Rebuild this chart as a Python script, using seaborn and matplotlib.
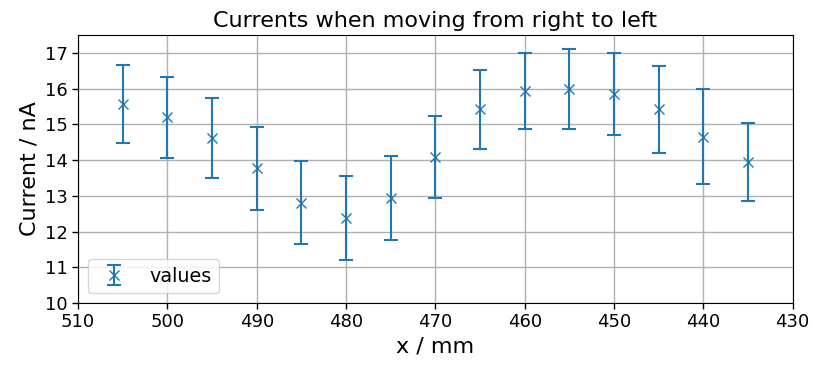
import numpy as np
import matplotlib
matplotlib.use("Agg")
import matplotlib.pyplot as plt
import seaborn as sns

x_mm = [505, 500, 495, 490, 485, 480, 475, 470, 465, 460, 455, 450, 445, 440, 435]
current = [15.57, 15.20, 14.62, 13.77, 12.81, 12.38, 12.93, 14.08, 15.42, 15.94, 16.00, 15.85, 15.42, 14.65, 13.94]
err = [1.10, 1.13, 1.12, 1.16, 1.16, 1.18, 1.17, 1.15, 1.10, 1.07, 1.12, 1.14, 1.21, 1.33, 1.09]

sns.set_style("ticks", rc={
    'text.color': 'black', 'axes.labelcolor': 'black',
    'xtick.color': 'black', 'ytick.color': 'black',
    'axes.edgecolor': 'black'})
plt.rcParams['font.family'] = ['DejaVu Sans']

fig, ax = plt.subplots(figsize=(8.13, 3.65), dpi=100)
ax.errorbar(x_mm, current, yerr=err, fmt='x', color='#1f77b4', capsize=5,
            markersize=7, elinewidth=1.5, capthick=1.5, label='values')
ax.set_xlim(510, 430)
ax.set_ylim(10, 17.5)
ax.set_xticks(np.arange(510, 429, -10))
ax.set_yticks(np.arange(10, 18, 1))
ax.grid(True, color='#b0b0b0', linewidth=1)
ax.set_axisbelow(True)
ax.tick_params(labelsize=13, direction='out', length=4, width=1)
ax.set_xlabel('x / mm', fontsize=16)
ax.set_ylabel('Current / nA', fontsize=16)
ax.set_title('Currents when moving from right to left', fontsize=16)
ax.legend(loc='lower left', fontsize=13.8)
fig.subplots_adjust(left=0.096, right=0.975, top=0.904, bottom=0.17)
fig.savefig('out.png', dpi=100)
